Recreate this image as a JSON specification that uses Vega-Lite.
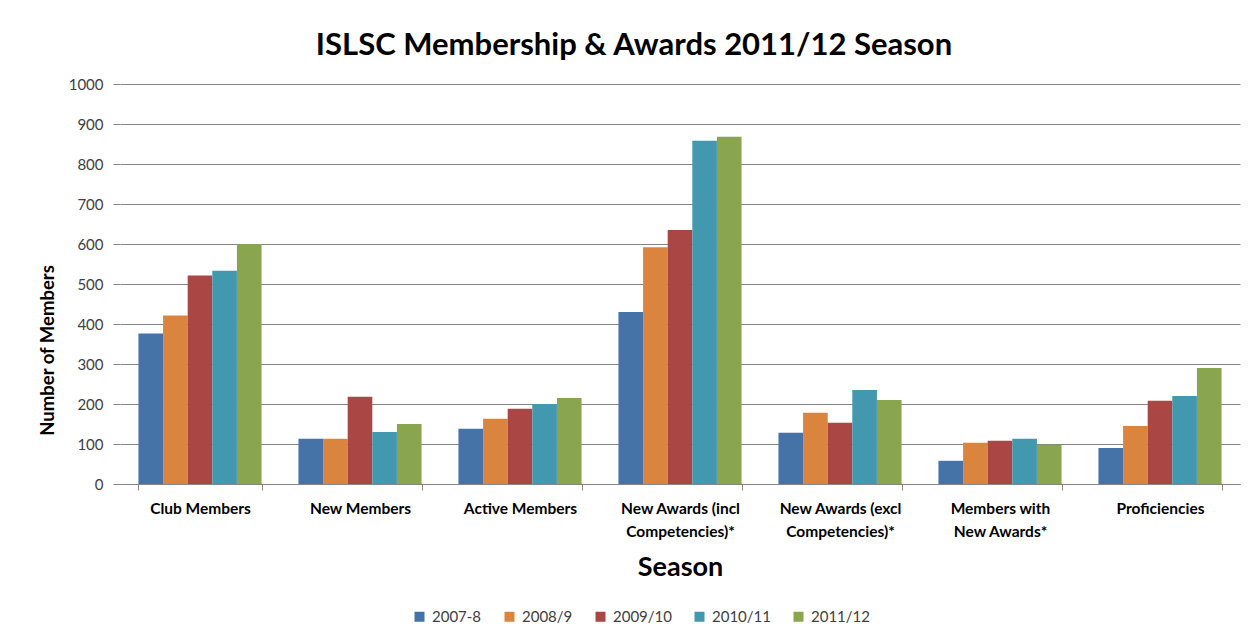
{
  "$schema": "https://vega.github.io/schema/vega-lite/v6.json",
  "width": 1120,
  "height": 400,
  "autosize": {"type": "none"},
  "padding": {"left": 120, "top": 84, "right": 10, "bottom": 150},
  "background": "white",
  "title": {
    "text": "ISLSC Membership & Awards 2011/12 Season",
    "font": "Lato",
    "fontSize": 31,
    "fontWeight": "bold",
    "color": "#000000",
    "anchor": "middle",
    "frame": "group",
    "dx": -46,
    "dy": 30,
    "offset": 21,
    "baseline": "alphabetic"
  },
  "data": {
    "values": [
      {"c": "Club Members", "s": "2007-8", "v": 376},
      {"c": "Club Members", "s": "2008/9", "v": 421},
      {"c": "Club Members", "s": "2009/10", "v": 521},
      {"c": "Club Members", "s": "2010/11", "v": 533},
      {"c": "Club Members", "s": "2011/12", "v": 600},
      {"c": "New Members", "s": "2007-8", "v": 113},
      {"c": "New Members", "s": "2008/9", "v": 113},
      {"c": "New Members", "s": "2009/10", "v": 218},
      {"c": "New Members", "s": "2010/11", "v": 130},
      {"c": "New Members", "s": "2011/12", "v": 150},
      {"c": "Active Members", "s": "2007-8", "v": 138},
      {"c": "Active Members", "s": "2008/9", "v": 163},
      {"c": "Active Members", "s": "2009/10", "v": 188},
      {"c": "Active Members", "s": "2010/11", "v": 200},
      {"c": "Active Members", "s": "2011/12", "v": 215},
      {"c": "New Awards (incl Competencies)*", "s": "2007-8", "v": 430},
      {"c": "New Awards (incl Competencies)*", "s": "2008/9", "v": 592},
      {"c": "New Awards (incl Competencies)*", "s": "2009/10", "v": 635},
      {"c": "New Awards (incl Competencies)*", "s": "2010/11", "v": 858},
      {"c": "New Awards (incl Competencies)*", "s": "2011/12", "v": 868},
      {"c": "New Awards (excl Competencies)*", "s": "2007-8", "v": 128},
      {"c": "New Awards (excl Competencies)*", "s": "2008/9", "v": 178},
      {"c": "New Awards (excl Competencies)*", "s": "2009/10", "v": 153},
      {"c": "New Awards (excl Competencies)*", "s": "2010/11", "v": 235},
      {"c": "New Awards (excl Competencies)*", "s": "2011/12", "v": 210},
      {"c": "Members with New Awards*", "s": "2007-8", "v": 58},
      {"c": "Members with New Awards*", "s": "2008/9", "v": 103},
      {"c": "Members with New Awards*", "s": "2009/10", "v": 108},
      {"c": "Members with New Awards*", "s": "2010/11", "v": 113},
      {"c": "Members with New Awards*", "s": "2011/12", "v": 98},
      {"c": "Proficiencies", "s": "2007-8", "v": 90},
      {"c": "Proficiencies", "s": "2008/9", "v": 145},
      {"c": "Proficiencies", "s": "2009/10", "v": 208},
      {"c": "Proficiencies", "s": "2010/11", "v": 220},
      {"c": "Proficiencies", "s": "2011/12", "v": 290}
    ]
  },
  "mark": {"type": "bar"},
  "encoding": {
    "x": {
      "field": "c",
      "type": "nominal",
      "sort": ["Club Members", "New Members", "Active Members", "New Awards (incl Competencies)*", "New Awards (excl Competencies)*", "Members with New Awards*", "Proficiencies"],
      "scale": {"paddingInner": 0.2308, "paddingOuter": 0.1154},
      "axis": {
        "title": "Season",
        "titleFont": "Lato",
        "titleFontSize": 27,
        "titleFontWeight": "bold",
        "titleColor": "#000000",
        "titlePadding": 15,
        "labelFont": "Lato",
        "labelFontWeight": "bold",
        "labelFontSize": 15.5,
        "labelColor": "#000000",
        "labelAngle": 0,
        "labelLimit": 0,
        "labelLineHeight": 23,
        "labelBaseline": "top",
        "labelPadding": 11,
        "labelExpr": "datum.label == 'New Awards (incl Competencies)*' ? ['New Awards (incl', 'Competencies)*'] : datum.label == 'New Awards (excl Competencies)*' ? ['New Awards (excl', 'Competencies)*'] : datum.label == 'Members with New Awards*' ? ['Members with', 'New Awards*'] : datum.label",
        "tickBand": "extent",
        "tickSize": 6,
        "tickColor": "#868686",
        "domainColor": "#868686",
        "grid": false
      }
    },
    "xOffset": {
      "field": "s",
      "type": "nominal",
      "sort": ["2007-8", "2008/9", "2009/10", "2010/11", "2011/12"],
      "scale": {"paddingInner": 0, "paddingOuter": 0}
    },
    "y": {
      "field": "v",
      "type": "quantitative",
      "scale": {"domain": [0, 1000]},
      "axis": {
        "title": "Number of Members",
        "titleFont": "Lato",
        "titleFontSize": 18.5,
        "titleFontWeight": "bold",
        "titleColor": "#000000",
        "titleAngle": -90,
        "titleX": -73,
        "titleY": 266,
        "titleAlign": "center",
        "titleBaseline": "middle",
        "labelFont": "Lato",
        "labelFontSize": 15,
        "labelColor": "#404040",
        "labelPadding": 10,
        "format": "d",
        "values": [0, 100, 200, 300, 400, 500, 600, 700, 800, 900, 1000],
        "tickSize": 7,
        "tickColor": "#868686",
        "gridColor": "#868686",
        "domain": false
      }
    },
    "color": {
      "field": "s",
      "type": "nominal",
      "sort": ["2007-8", "2008/9", "2009/10", "2010/11", "2011/12"],
      "scale": {"range": ["#4572A7", "#DB843D", "#AA4643", "#4198AF", "#89A54E"]},
      "legend": {
        "title": null,
        "orient": "none",
        "direction": "horizontal",
        "legendX": 292,
        "legendY": 525,
        "symbolType": "square",
        "symbolSize": 100,
        "symbolStrokeWidth": 0,
        "labelFont": "Lato",
        "labelFontSize": 15,
        "labelColor": "#404040",
        "labelOffset": 5,
        "columnPadding": 20
      }
    }
  },
  "config": {"view": {"stroke": null}}
}
